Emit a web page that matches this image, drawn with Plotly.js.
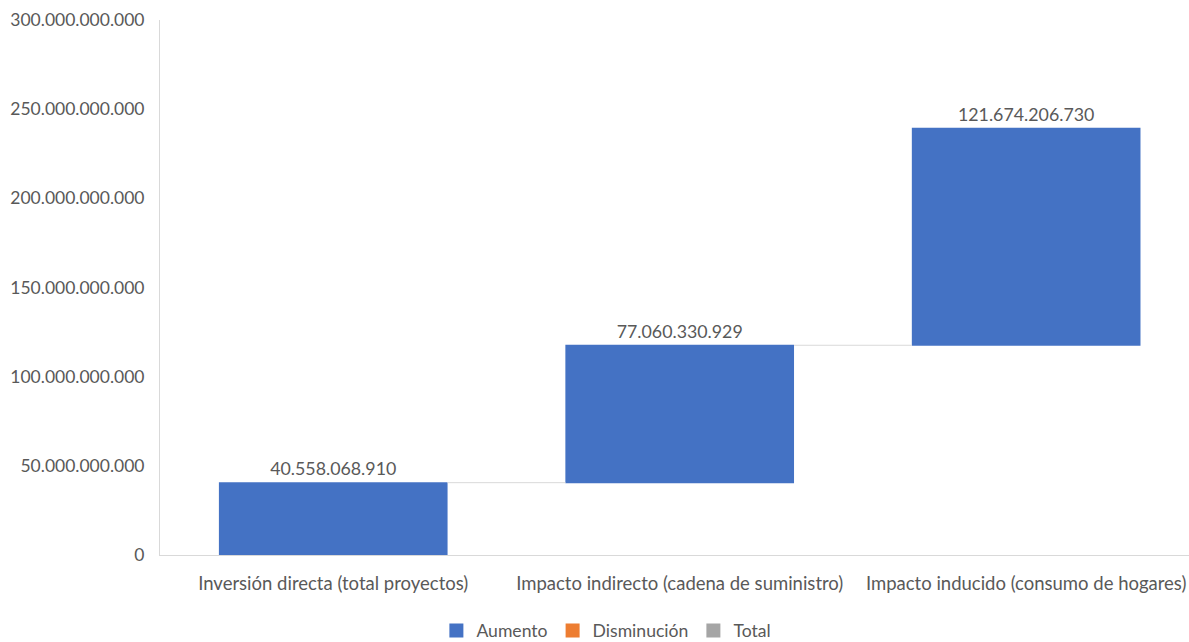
<!DOCTYPE html>
<html>
<head>
<meta charset="utf-8">
<script src="https://cdn.plot.ly/plotly-3.0.1.min.js"></script>
<style>html,body{margin:0;padding:0;background:#fff;}#chart{width:1189px;height:642px;}</style>
</head>
<body>
<div id="chart"></div>
<script>
const categories = [
  "Inversión directa (total proyectos)",
  "Impacto indirecto (cadena de suministro)",
  "Impacto inducido (consumo de hogares)"
];
const values = [40558068910, 77060330929, 121674206730];
const measures = ["relative", "relative", "relative"];
const legendNames = ["Aumento", "Disminución", "Total"];
const legendColors = ["#4472C4", "#ED7D31", "#A5A5A5"];
const yTicks = [0, 50000000000, 100000000000, 150000000000, 200000000000, 250000000000, 300000000000];

const font = "Lato, 'Open Sans', sans-serif";
const txtColor = "#595959";

const traces = [{
  type: "waterfall",
  x: categories,
  y: values,
  measure: measures,
  width: 0.66,
  increasing: {marker: {color: legendColors[0]}},
  decreasing: {marker: {color: legendColors[1]}},
  totals: {marker: {color: legendColors[2]}},
  connector: {line: {color: "#D9D9D9", width: 1}},
  texttemplate: "%{delta:,d}",
  textposition: "outside",
  textfont: {family: font, size: 17.8, color: txtColor},
  cliponaxis: false,
  showlegend: false,
  hoverinfo: "skip"
}];
legendNames.forEach((n, i) => {
  traces.push({
    type: "scatter", mode: "markers", x: [null], y: [null], name: n,
    marker: {symbol: "square", size: 14, color: legendColors[i]},
    showlegend: true, hoverinfo: "skip"
  });
});

const layout = {
  width: 1189, height: 642,
  margin: {l: 160, r: 0, t: 20, b: 87},
  paper_bgcolor: "#fff", plot_bgcolor: "#fff",
  separators: ",.",
  font: {family: font, size: 18, color: txtColor},
  xaxis: {
    type: "category",
    range: [-0.5, 2.47],
    showline: true, linecolor: "#D9D9D9", linewidth: 1,
    showgrid: false, zeroline: false, ticks: "",
    ticklabelstandoff: 12,
    tickfont: {family: font, size: 18.5, color: txtColor},
    fixedrange: true
  },
  yaxis: {
    range: [0, 300000000000],
    tickvals: yTicks,
    tickformat: ",d",
    showline: true, linecolor: "#D9D9D9", linewidth: 1,
    showgrid: false, zeroline: false, ticks: "",
    ticklabelstandoff: 11,
    tickfont: {family: font, size: 17.5, color: txtColor},
    fixedrange: true
  },
  showlegend: true,
  legend: {
    orientation: "h",
    xref: "container", yref: "container",
    x: 0.51, xanchor: "center",
    y: 0.018, yanchor: "middle",
    font: {family: font, size: 17.6, color: txtColor},
    itemwidth: 30,
    traceorder: "normal"
  }
};

Plotly.newPlot("chart", traces, layout, {displayModeBar: false, staticPlot: true});
</script>
</body>
</html>
